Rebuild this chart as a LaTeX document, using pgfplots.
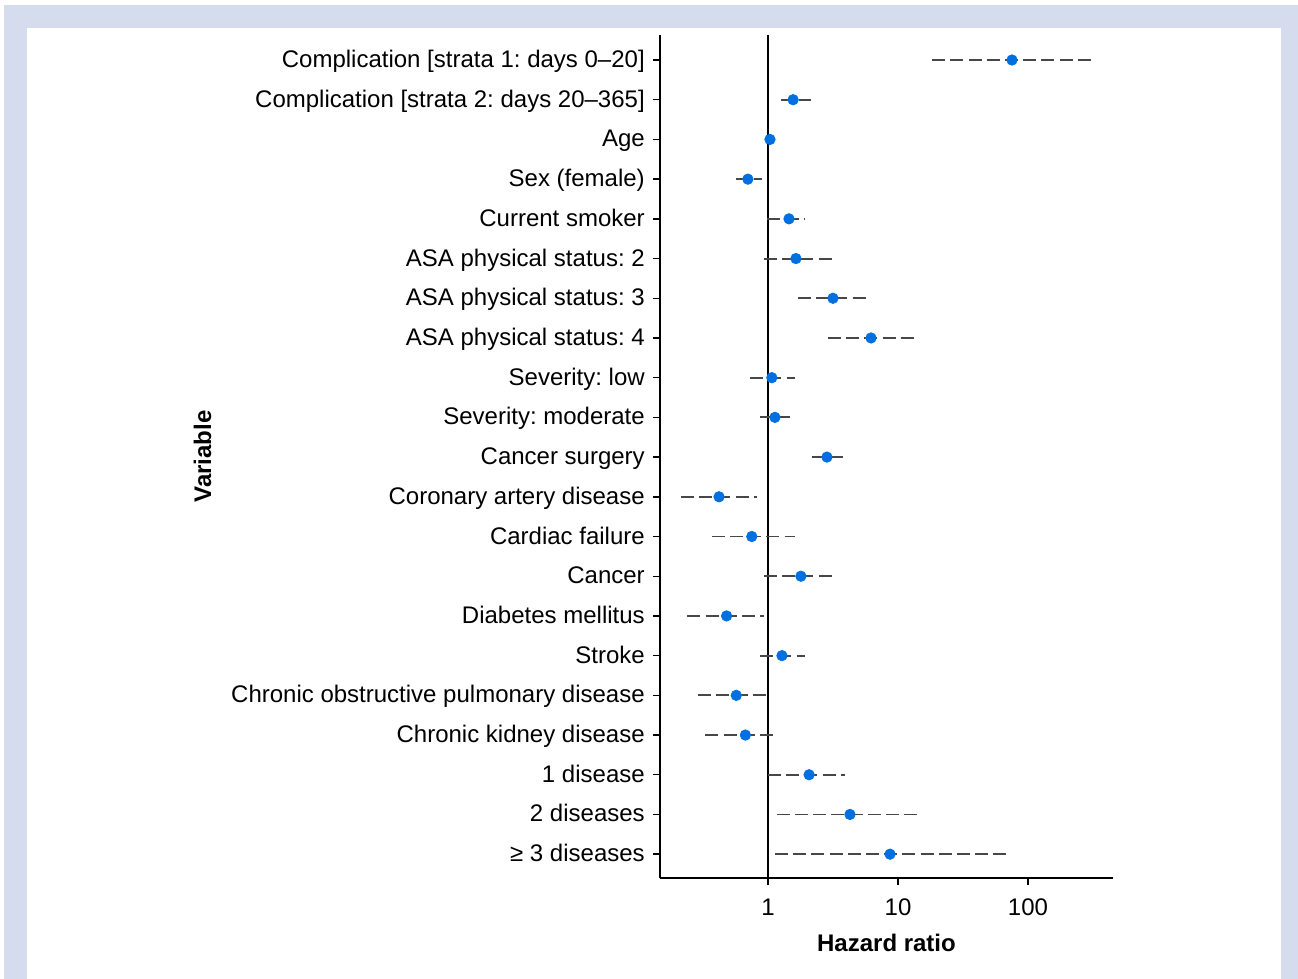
\documentclass[border=0pt]{standalone}
\usepackage{pgfplots}
\pgfplotsset{compat=1.18}
\usepackage{fontspec}
\setmainfont{Liberation Sans}
\frenchspacing
\definecolor{frameblue}{RGB}{212,220,238}
\definecolor{dotblue}{RGB}{0,112,224}
\begin{document}
\begin{tikzpicture}[x=1pt,y=1pt]
\fill[white] (0,0) rectangle (649,489.5);
\fill[frameblue] (2,0) rectangle (649,487);
\fill[white] (13.5,0) rectangle (640.5,475.5);
\begin{axis}[
  at={(330pt,50.5pt)}, anchor=south west,
  scale only axis, width=226.5pt, height=421.5pt,
  xmode=log, xmin=0.1476, xmax=450.6,
  ymin=0.37, ymax=21.6, y dir=reverse,
  axis lines=left, axis line style={-, line width=0.7pt},
  tick align=outside, major tick length=3.5pt,
  tick style={line width=0.7pt, black},
  xtick={1,10,100}, xticklabels={1,10,100},
  xminorticks=false,
  ytick={1,...,21},
  yticklabels={Complication [strata 1: days 0–20],Complication [strata 2: days 20–365],Age,Sex (female),Current smoker,ASA physical status: 2,ASA physical status: 3,ASA physical status: 4,Severity: low,Severity: moderate,Cancer surgery,Coronary artery disease,Cardiac failure,Cancer,Diabetes mellitus,Stroke,Chronic obstructive pulmonary disease,Chronic kidney disease,1 disease,2 diseases,≥ 3 diseases},
  /pgf/number format/assume math mode=true,
  ticklabel style={font=\fontsize{12}{14}\selectfont},
  yticklabel style={text height=9pt, text depth=2.5pt, yshift=-0.5pt, xshift=-0.6pt},
  xticklabel style={yshift=-3.5pt},
  xlabel={Hazard ratio}, ylabel={Variable},
  label style={font=\fontsize{12}{14}\selectfont\bfseries},
  xlabel style={yshift=-2pt},
  ylabel style={yshift=3pt},
  unbounded coords=jump,
  clip=false,
]
\draw[line width=0.6pt] (axis cs:1,0.37) -- (axis cs:1,21.6);
\addplot[black!72, line width=0.95pt, dash pattern=on 6.5pt off 2.6pt] coordinates {
(18.3,1) (316,1) (nan,nan)
(1.26,2) (2.14,2) (nan,nan)
(0.99,3) (1.11,3) (nan,nan)
(0.57,4) (0.90,4) (nan,nan)
(0.99,5) (1.93,5) (nan,nan)
(0.93,6) (3.1,6) (nan,nan)
(1.70,7) (5.88,7) (nan,nan)
(2.89,8) (13.3,8) (nan,nan)
(0.73,9) (1.61,9) (nan,nan)
(0.87,10) (1.48,10) (nan,nan)
(2.18,11) (3.78,11) (nan,nan)
(0.214,12) (0.82,12) (nan,nan)
(0.37,13) (1.61,13) (nan,nan)
(0.93,14) (3.28,14) (nan,nan)
(0.24,15) (0.93,15) (nan,nan)
(0.87,16) (1.93,16) (nan,nan)
(0.29,17) (1.0,17) (nan,nan)
(0.33,18) (1.13,18) (nan,nan)
(1.0,19) (3.91,19) (nan,nan)
(1.17,20) (15.0,20) (nan,nan)
(1.13,21) (67.7,21)
};
\addplot[only marks, mark=*, mark size=2.6pt, mark options={draw=dotblue, fill=dotblue}] coordinates {
(75.3,1) (1.56,2) (1.035,3) (0.70,4) (1.45,5) (1.64,6) (3.16,7) (6.2,8)
(1.07,9) (1.13,10) (2.84,11) (0.42,12) (0.75,13) (1.79,14) (0.48,15)
(1.28,16) (0.57,17) (0.67,18) (2.07,19) (4.27,20) (8.68,21)
};
\end{axis}
\end{tikzpicture}
\end{document}
